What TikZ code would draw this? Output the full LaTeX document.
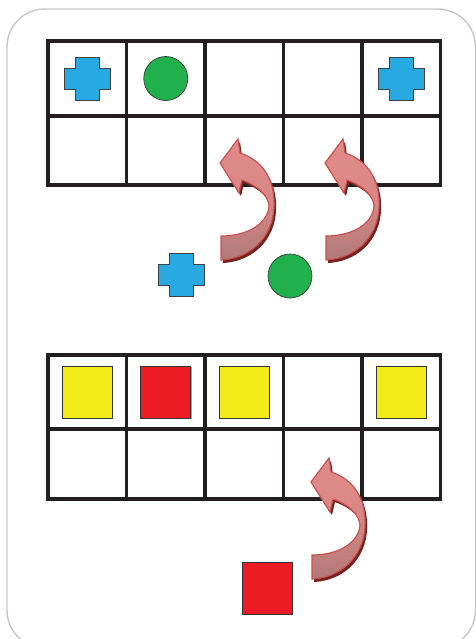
\documentclass[tikz,border=0pt]{standalone}
\usetikzlibrary{positioning, shadows}
\definecolor{cardgrey}{RGB}{200,200,200}
\definecolor{gridblack}{RGB}{35,31,32}
\definecolor{tokblue}{RGB}{39,170,226}
\definecolor{tokgreen}{RGB}{33,177,76}
\definecolor{tokyellow}{RGB}{242,235,23}
\definecolor{tokred}{RGB}{237,28,36}
\definecolor{arrowlight}{RGB}{224,138,136}
\definecolor{arrowgrey}{RGB}{176,122,120}
\definecolor{arrowline}{RGB}{200,82,80}
\definecolor{arrowshade}{RGB}{118,32,32}
% outline of the turning arrow, origin at the middle of its tail
\newcommand{\turnpath}{(0,12) .. controls (34,10) and (55,-16) .. (53,-48)
  .. controls (52,-70) and (41,-88) .. (19,-95) -- (17,-109) -- (-1,-85)
  -- (18,-55) -- (21,-68) .. controls (37,-62) and (47,-53) .. (48,-42)
  .. controls (47,-26) and (29,-12) .. (0,-12) -- cycle}

\begin{document}
\begin{tikzpicture}[
  x=0.02646cm, y=-0.02646cm,
  cell/.style={draw=gridblack, line width=3pt, inner sep=0pt, outer sep=0pt, minimum width=2.077cm},
  disc/.style={circle, draw=black!80, fill=tokgreen, line width=0.5pt, minimum size=1.164cm, inner sep=0pt},
  tile/.style={draw=black!80, line width=0.5pt, minimum width=1.323cm, minimum height=1.376cm, inner sep=0pt,
    drop shadow={shadow xshift=0.6pt, shadow yshift=-0.6pt, fill=black!45, opacity=0.8}},
  bluecross/.pic={
    \draw[draw=black!75, fill=tokblue, line width=0.5pt]
      (-12,-21.5) -- (12,-21.5) -- (12,-10.5) -- (23,-10.5) -- (23,10.5) -- (12,10.5)
      -- (12,21.5) -- (-12,21.5) -- (-12,10.5) -- (-23,10.5) -- (-23,-10.5) -- (-12,-10.5) -- cycle;
  },
  turnarrow/.pic={
    \fill[arrowshade, shift={(2,3)}] \turnpath;
    \draw[draw=arrowline, line width=0.9pt, top color=arrowlight, bottom color=arrowgrey,
      middle color=arrowlight!85!arrowgrey] \turnpath;
  },
]
  \useasboundingbox (0,0) rectangle (476,639);

  % Card
  \draw[cardgrey, line width=1.1pt, rounded corners=1.0cm] (7,9) rectangle (475.5,648);

  % Grids
  \foreach \i in {1,...,5} {
    \node[cell, minimum height=1.985cm] (ta\i) at ({48+78.5*(\i-0.5)},78.5) {};
    \node[cell, minimum height=1.826cm] (tb\i) at ({48+78.5*(\i-0.5)},150.5) {};
    \node[cell, minimum height=1.958cm] (ba\i) at ({48+78.5*(\i-0.5)},392) {};
    \node[cell, minimum height=1.852cm] (bb\i) at ({48+78.5*(\i-0.5)},464) {};
  }

  % Top tokens
  \pic (crossA) at (ta1) {bluecross};
  \node[disc] (discA) at (ta2) {};
  \pic (crossB) at (ta5) {bluecross};

  % Bottom tokens
  \node[tile, fill=tokyellow] (tileA) at (ba1) {};
  \node[tile, fill=tokred] (tileB) at (ba2) {};
  \node[tile, fill=tokyellow] (tileC) at (ba3) {};
  \node[tile, fill=tokyellow] (tileE) at (ba5) {};

  % Loose tokens
  \pic (crossC) at (181,275) {bluecross};
  \node[disc] (discB) at (290,276) {};
  \node[tile, fill=tokred] (tileF) at (267,588) {};

  % Arrows
  \pic (turnA) at (221,248) {turnarrow};
  \pic (turnB) at (326,248) {turnarrow};
  \pic (turnC) at (312,567) {turnarrow};
\end{tikzpicture}
\end{document}
